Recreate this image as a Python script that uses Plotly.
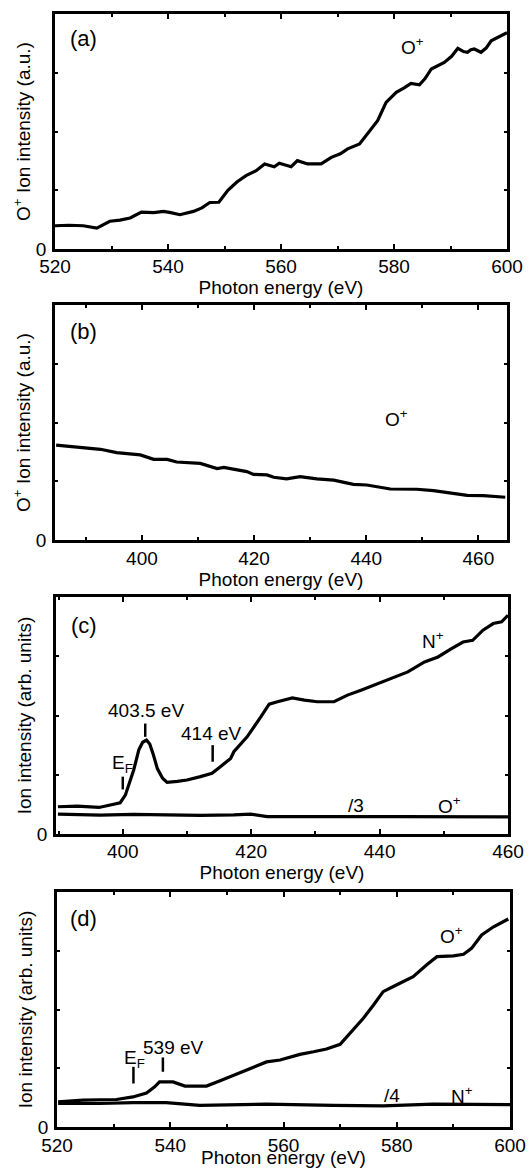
import plotly.graph_objects as go

FONT = "Liberation Sans, Arial, Helvetica, sans-serif"

# ---------------- data (y in arbitrary units, 0..100 = frame) ----------------
# (a) O+ ion yield, 520-600 eV
a_x = [520.0, 522.5, 525.0, 527.4, 529.7, 531.5, 533.3, 535.3, 537.5, 539.2, 540.5, 542.1, 544.5,
       546.0, 547.4, 549.0, 550.6, 552.2, 553.8, 555.6, 557.1, 558.8, 559.7, 561.8, 562.9, 564.7,
       567.1, 568.9, 570.5, 571.8, 573.9, 575.3, 576.2, 577.1, 578.6, 580.4, 581.8, 583.0, 584.5,
       585.5, 586.6, 588.9, 590.2, 591.3, 592.3, 593.0, 593.6, 594.2, 595.4, 596.3, 597.2, 598.5,
       599.5, 600.0]
a_y = [9.9, 10.1, 9.9, 8.9, 11.8, 12.3, 13.2, 15.7, 15.5, 16.0, 15.5, 14.6, 16.0,
       17.5, 19.8, 19.9, 25.0, 28.5, 31.2, 33.3, 36.2, 35.0, 36.5, 35.0, 37.6, 36.2,
       36.2, 39.0, 40.5, 42.6, 44.7, 48.9, 51.5, 54.6, 62.4, 66.7, 68.6, 70.5, 69.9,
       72.5, 76.6, 79.4, 82.0, 85.4, 84.0, 83.7, 84.8, 85.1, 83.7, 85.5, 88.6, 90.2,
       91.5, 92.0]

# (b) O+ ion yield, 385-465 eV
b_x = [384.7, 389.6, 392.6, 395.5, 399.7, 402.1, 404.5, 406.2, 410.4, 413.4, 414.6, 418.7, 419.9,
       422.3, 423.5, 425.8, 428.2, 431.2, 434.2, 437.7, 440.1, 444.3, 449.0, 452.0, 455.0, 458.0,
       460.9, 464.8]
b_y = [40.4, 39.4, 38.6, 37.2, 36.2, 34.3, 34.3, 33.2, 32.6, 30.4, 30.9, 29.1, 27.9,
       27.7, 26.7, 26.0, 27.0, 26.0, 25.5, 23.7, 23.4, 21.7, 21.6, 21.0, 20.1, 19.0,
       18.9, 18.2]

# (c) N+ ion yield and O+ (/3), 390-460 eV
c_n_x = [389.9, 392.9, 396.3, 398.6, 399.6, 400.4, 400.9, 401.7, 402.5, 403.1, 403.7, 404.2, 404.7,
         405.4, 406.2, 406.9, 408.5, 410.0, 412.1, 413.9, 415.2, 416.8, 417.3, 419.4, 421.5, 422.8,
         424.1, 426.4, 428.3, 430.3, 432.9, 435.0, 437.1, 439.7, 441.8, 444.4, 447.0, 449.1, 451.2,
         453.0, 454.5, 456.1, 457.7, 459.0, 460.0]
c_n_y = [11.5, 11.8, 11.2, 12.6, 13.2, 16.4, 20.5, 27.0, 35.5, 38.7, 39.6, 38.0, 34.0,
         27.5, 23.5, 21.8, 22.2, 22.8, 24.2, 25.6, 28.4, 31.9, 34.7, 41.1, 49.4, 54.8,
         55.8, 57.4, 56.5, 55.8, 55.8, 58.6, 60.7, 63.5, 65.6, 68.4, 72.6, 74.7, 78.2,
         81.0, 81.7, 86.0, 88.8, 89.5, 92.3]
c_o_x = [389.9, 396.5, 401.6, 406.9, 412.1, 417.3, 419.9, 422.5, 427.7, 432.9, 443.3, 453.7, 460.0]
c_o_y = [8.4, 8.0, 8.3, 8.0, 7.9, 8.1, 8.4, 7.3, 7.4, 7.3, 7.3, 7.2, 7.2]

# (d) O+ ion yield and N+ (/4), 520-600 eV
d_o_x = [520.2, 524.6, 530.5, 533.4, 535.8, 537.2, 538.1, 540.5, 542.6, 546.4, 548.7, 551.7, 554.6,
         557.0, 559.4, 562.9, 565.3, 567.6, 570.0, 571.7, 574.1, 575.9, 577.6, 579.4, 582.9, 585.3,
         587.1, 590.0, 591.8, 593.2, 595.0, 597.1, 599.7]
d_o_y = [10.7, 11.4, 11.7, 12.8, 14.5, 17.0, 19.2, 19.2, 17.4, 17.4, 19.6, 22.5, 25.3,
         27.7, 28.5, 30.9, 32.0, 33.2, 35.2, 39.9, 46.3, 51.9, 57.6, 59.8, 64.0, 69.0,
         72.5, 72.8, 73.5, 76.0, 81.7, 85.2, 88.5]
d_n_x = [520.2, 527.5, 533.4, 539.3, 545.2, 557.0, 568.8, 577.6, 586.4, 600.0]
d_n_y = [10.0, 10.0, 10.4, 10.4, 9.2, 9.7, 9.2, 9.0, 9.7, 9.5]

# peak / edge markers (energy, y-bottom, y-top)
c_marks = [(403.5, 41.0, 46.6), (414.0, 30.5, 37.5), (400.0, 18.8, 24.2)]
d_marks = [(538.7, 23.5, 29.6), (533.5, 18.5, 25.6)]

# ---------------- figure ----------------
W, H = 531, 1168
panels = [
    # (x-domain px, y-top px, y-bottom px, x-range, y-title, tick-label shift)
    ((55, 507), 14, 249, [520, 600], "O<sup>+</sup> Ion intensity (a.u.)", -2),
    ((55, 507), 305, 540, [384.5, 465.1], "O<sup>+</sup> Ion intensity (a.u.)", -1),
    ((56, 508), 597, 834, [389.6, 460], "Ion intensity (arb. units)", -2),
    ((57, 510), 892, 1127, [520, 600], "Ion intensity (arb. units)", -1),
]

fig = go.Figure()
LINE = dict(color="black", width=3.2)

series = [
    (1, a_x, a_y), (2, b_x, b_y), (3, c_n_x, c_n_y), (3, c_o_x, c_o_y),
    (4, d_o_x, d_o_y), (4, d_n_x, d_n_y),
]
for k, xs, ys in series:
    sfx = "" if k == 1 else str(k)
    fig.add_trace(go.Scatter(x=xs, y=ys, mode="lines", line=LINE, showlegend=False,
                             xaxis="x" + sfx, yaxis="y" + sfx, hoverinfo="skip"))

layout = dict(width=W, height=H, margin=dict(l=0, r=0, t=0, b=0),
              paper_bgcolor="white", plot_bgcolor="white",
              font=dict(family=FONT, size=19, color="black"), showlegend=False)

for i, ((x0, x1), yt, yb, xr, ytitle, tls) in enumerate(panels, start=1):
    sfx = "" if i == 1 else str(i)
    layout["xaxis" + sfx] = dict(
        domain=[x0 / W, x1 / W], range=xr, anchor="y" + sfx,
        showline=True, linecolor="black", linewidth=2.5, mirror="ticks",
        ticks="inside", ticklen=5, tickwidth=2, tickcolor="black",
        tick0=0, dtick=20,
        minor=dict(dtick=10, ticks="inside", ticklen=3, tickwidth=1.5, tickcolor="black"),
        showgrid=False, zeroline=False, automargin=False,
        tickfont=dict(size=19, family=FONT), ticklabelstandoff=tls,
        title=dict(text="Photon energy (eV)", font=dict(size=19, family=FONT), standoff=0),
    )
    layout["yaxis" + sfx] = dict(
        domain=[1 - yb / H, 1 - yt / H], range=[0, 100], anchor="x" + sfx,
        showline=True, linecolor="black", linewidth=2.5, mirror="ticks",
        ticks="inside", ticklen=3, tickwidth=1.5, tickcolor="black",
        tickvals=[0, 25, 50, 75, 100], ticktext=["0", "", "", "", ""],
        showgrid=False, zeroline=False, automargin=False,
        tickfont=dict(size=19, family=FONT), ticklabelstandoff=2,
        title=dict(text=ytitle, font=dict(size=19, family=FONT), standoff=1),
    )
fig.update_layout(**layout)

# ---------------- annotations ----------------
def ann(k, x, y, text, size=19):
    sfx = "" if k == 1 else str(k)
    fig.add_annotation(x=x, y=y, xref="x" + sfx, yref="y" + sfx, text=text, showarrow=False,
                       font=dict(size=size, family=FONT, color="black"),
                       xanchor="center", yanchor="middle")

ann(1, 525.0, 89.7, "(a)", 22)
ann(1, 583.3, 86.5, "O<sup>+</sup>")
ann(2, 389.6, 88.7, "(b)", 22)
ann(2, 445.4, 51.8, "O<sup>+</sup>")
ann(3, 393.9, 88.1, "(c)", 22)
ann(3, 403.6, 52.2, "403.5 eV")
ann(3, 413.8, 42.4, "414 eV")
ann(3, 399.9, 29.5, "E<sub>F</sub>")
ann(3, 448.3, 82.0, "N<sup>+</sup>")
ann(3, 436.3, 12.2, "/3")
ann(3, 450.9, 12.2, "O<sup>+</sup>")
ann(4, 524.6, 88.9, "(d)", 22)
ann(4, 533.7, 29.0, "E<sub>F</sub>")
ann(4, 540.5, 33.9, "539 eV")
ann(4, 589.7, 81.8, "O<sup>+</sup>")
ann(4, 579.1, 13.5, "/4")
ann(4, 591.5, 13.5, "N<sup>+</sup>")

for k, marks in ((3, c_marks), (4, d_marks)):
    for (e, y0, y1) in marks:
        fig.add_shape(type="line", xref="x" + str(k), yref="y" + str(k),
                      x0=e, x1=e, y0=y0, y1=y1, line=dict(color="black", width=2.5))

fig.write_html("out.html")
